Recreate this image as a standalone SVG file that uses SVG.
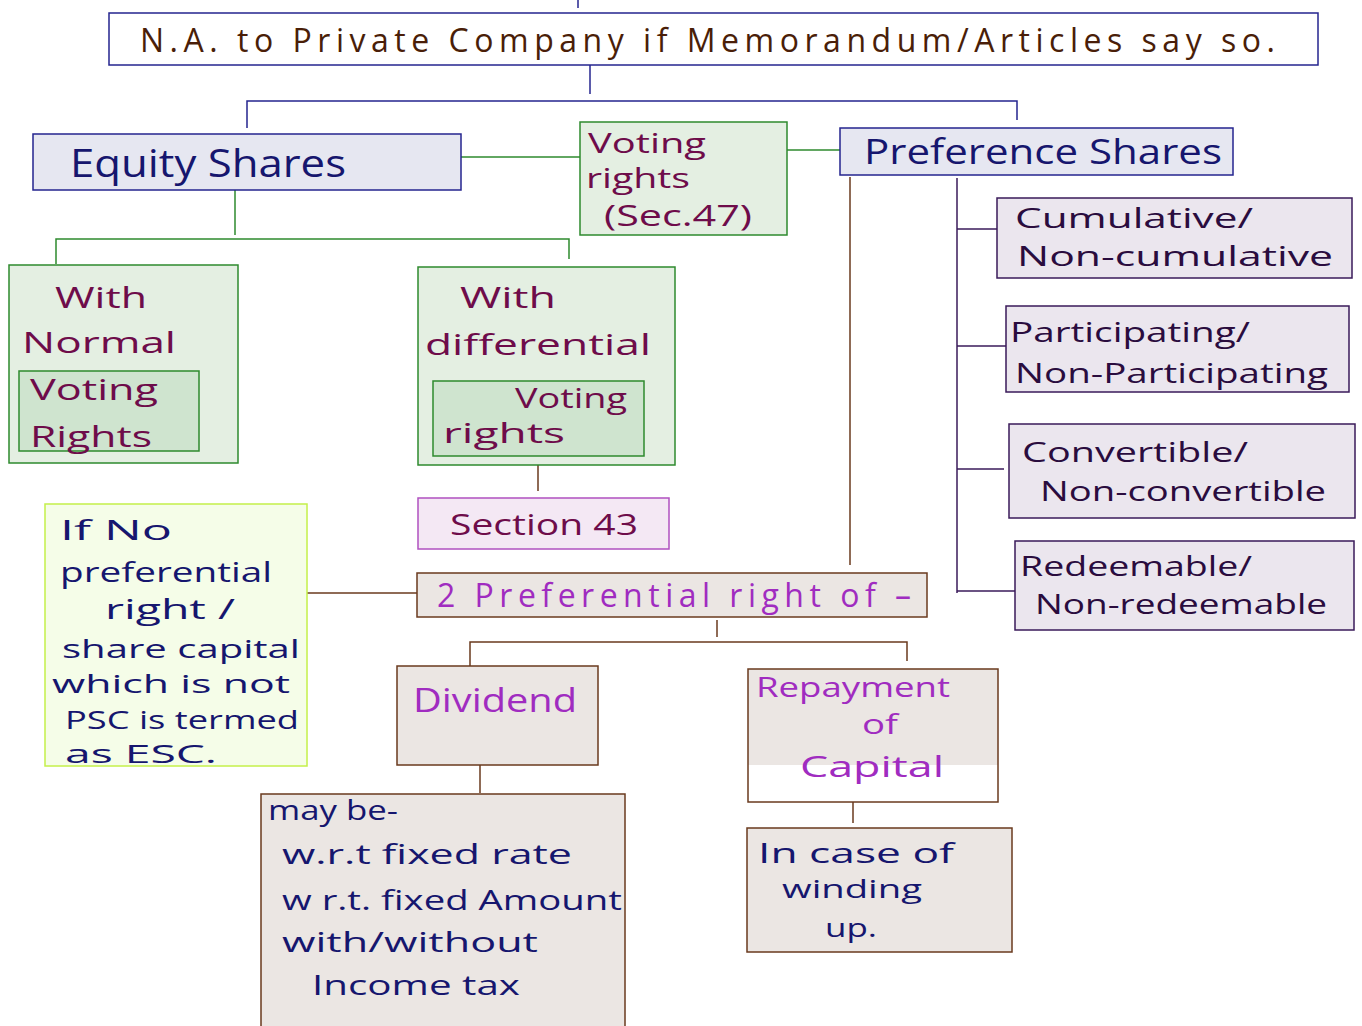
<svg xmlns="http://www.w3.org/2000/svg" width="1362" height="1026" viewBox="0 0 1362 1026">
<style>
text{font-family:"Open Sans","Liberation Sans",sans-serif;}
.nv{fill:#16166e;}
.mr{fill:#6e0c4a;}
.pu{fill:#a02cc0;}
.br{fill:#4a1e08;}
.dk{fill:#2a0c3e;}
.bx-blue{fill:#e6e7f1;stroke:#25258f;stroke-width:1.5;}
.bx-green{fill:#e4efe2;stroke:#2e8a2e;stroke-width:1.5;}
.bx-green2{fill:#cfe4cf;stroke:#2e8a2e;stroke-width:1.5;}
.bx-purp{fill:#ebe6ee;stroke:#3a1a5a;stroke-width:1.5;}
.bx-brown{fill:#ebe6e3;stroke:#6a3a1e;stroke-width:1.5;}
.c-nv{stroke:#25258f;stroke-width:1.5;fill:none;}
.c-gr{stroke:#2e8a2e;stroke-width:1.5;fill:none;}
.c-br{stroke:#6a3a1e;stroke-width:1.5;fill:none;}
.c-pu{stroke:#3a1a5a;stroke-width:1.5;fill:none;}
</style>
<rect width="1362" height="1026" fill="#ffffff"/>
<g id="connectors">
<line x1="578" y1="0" x2="578" y2="8" class="c-nv"/>
<line x1="590" y1="65" x2="590" y2="94" class="c-nv"/>
<polyline points="247,128 247,101 1017,101 1017,120" class="c-nv"/>
<line x1="461" y1="157" x2="580" y2="157" class="c-gr"/>
<line x1="787" y1="150" x2="840" y2="150" class="c-gr"/>
<line x1="235" y1="190" x2="235" y2="235" class="c-gr"/>
<polyline points="56,264 56,239 569,239 569,259" class="c-gr"/>
<line x1="538" y1="465" x2="538" y2="491" class="c-br"/>
<line x1="850" y1="177" x2="850" y2="565" class="c-br"/>
<line x1="957" y1="178" x2="957" y2="593" class="c-pu"/>
<line x1="957" y1="229" x2="997" y2="229" class="c-pu"/>
<line x1="957" y1="346" x2="1006" y2="346" class="c-pu"/>
<line x1="957" y1="469" x2="1004" y2="469" class="c-pu"/>
<line x1="957" y1="591" x2="1015" y2="591" class="c-pu"/>
<line x1="307" y1="593" x2="417" y2="593" class="c-br"/>
<line x1="717" y1="620" x2="717" y2="637" class="c-br"/>
<polyline points="470,666 470,642 907,642 907,661" class="c-br"/>
<line x1="480" y1="765" x2="480" y2="793" class="c-br"/>
<line x1="853" y1="802" x2="853" y2="823" class="c-br"/>
</g>
<g id="top">
<rect x="109" y="13" width="1209" height="52" fill="#ffffff" stroke="#25258f" stroke-width="1.5"/>
<text x="140" y="52" font-size="32" class="br" textLength="1135" lengthAdjust="spacing">N.A. to Private Company if Memorandum/Articles say so.</text>
</g>
<g id="equity">
<rect x="33" y="134" width="428" height="56" class="bx-blue"/>
<text x="70" y="177" font-size="38" class="nv" textLength="276" lengthAdjust="spacingAndGlyphs">Equity Shares</text>
</g>
<g id="voting">
<rect x="580" y="122" width="207" height="113" class="bx-green"/>
<text x="588" y="153" font-size="27" class="mr" textLength="118" lengthAdjust="spacingAndGlyphs">Voting</text>
<text x="586" y="188" font-size="27" class="mr" textLength="104" lengthAdjust="spacingAndGlyphs">rights</text>
<text x="604" y="226" font-size="29" class="mr" textLength="148" lengthAdjust="spacingAndGlyphs">(Sec.47)</text>
</g>
<g id="preference">
<rect x="840" y="128" width="393" height="47" class="bx-blue"/>
<text x="864" y="164" font-size="34" class="nv" textLength="358" lengthAdjust="spacingAndGlyphs">Preference Shares</text>
</g>
<g id="normal">
<rect x="9" y="265" width="229" height="198" class="bx-green"/>
<text x="55" y="308" font-size="30" class="mr" textLength="92" lengthAdjust="spacingAndGlyphs">With</text>
<text x="22" y="353" font-size="30" class="mr" textLength="154" lengthAdjust="spacingAndGlyphs">Normal</text>
<rect x="19" y="371" width="180" height="80" class="bx-green2"/>
<text x="30" y="400" font-size="30" class="mr" textLength="128" lengthAdjust="spacingAndGlyphs">Voting</text>
<text x="30" y="447" font-size="30" class="mr" textLength="122" lengthAdjust="spacingAndGlyphs">Rights</text>
</g>
<g id="differential">
<rect x="418" y="267" width="257" height="198" class="bx-green"/>
<text x="460" y="308" font-size="30" class="mr" textLength="96" lengthAdjust="spacingAndGlyphs">With</text>
<text x="425" y="355" font-size="30" class="mr" textLength="226" lengthAdjust="spacingAndGlyphs">differential</text>
<rect x="433" y="381" width="211" height="75" class="bx-green2"/>
<text x="515" y="408" font-size="28" class="mr" textLength="112" lengthAdjust="spacingAndGlyphs">Voting</text>
<text x="443" y="443" font-size="28" class="mr" textLength="122" lengthAdjust="spacingAndGlyphs">rights</text>
</g>
<g id="section43">
<rect x="418" y="498" width="251" height="51" fill="#f4e8f4" stroke="#b050c0" stroke-width="1.5"/>
<text x="450" y="535" font-size="30" class="mr" textLength="188" lengthAdjust="spacingAndGlyphs">Section 43</text>
</g>
<g id="cumulative">
<rect x="997" y="198" width="355" height="80" class="bx-purp"/>
<text x="1015" y="228" font-size="28" class="dk" textLength="238" lengthAdjust="spacingAndGlyphs">Cumulative/</text>
<text x="1017" y="266" font-size="28" class="dk" textLength="316" lengthAdjust="spacingAndGlyphs">Non-cumulative</text>
</g>
<g id="participating">
<rect x="1006" y="306" width="343" height="86" class="bx-purp"/>
<text x="1010" y="342" font-size="28" class="dk" textLength="240" lengthAdjust="spacingAndGlyphs">Participating/</text>
<text x="1015" y="383" font-size="28" class="dk" textLength="313" lengthAdjust="spacingAndGlyphs">Non-Participating</text>
</g>
<g id="convertible">
<rect x="1009" y="424" width="346" height="94" class="bx-purp"/>
<text x="1022" y="462" font-size="28" class="dk" textLength="226" lengthAdjust="spacingAndGlyphs">Convertible/</text>
<text x="1040" y="501" font-size="28" class="dk" textLength="286" lengthAdjust="spacingAndGlyphs">Non-convertible</text>
</g>
<g id="redeemable">
<rect x="1015" y="541" width="339" height="89" class="bx-purp"/>
<text x="1020" y="576" font-size="28" class="dk" textLength="232" lengthAdjust="spacingAndGlyphs">Redeemable/</text>
<text x="1035" y="614" font-size="28" class="dk" textLength="292" lengthAdjust="spacingAndGlyphs">Non-redeemable</text>
</g>
<g id="ifno">
<rect x="45" y="504" width="262" height="262" fill="#f5fde8" stroke="#c4f04a" stroke-width="1.5"/>
<text x="60" y="540" font-size="27" class="nv" textLength="112" lengthAdjust="spacingAndGlyphs">If No</text>
<text x="60" y="582" font-size="27" class="nv" textLength="212" lengthAdjust="spacingAndGlyphs">preferential</text>
<text x="105" y="619" font-size="27" class="nv" textLength="130" lengthAdjust="spacingAndGlyphs">right /</text>
<text x="62" y="658" font-size="26" class="nv" textLength="238" lengthAdjust="spacingAndGlyphs">share capital</text>
<text x="52" y="693" font-size="25" class="nv" textLength="238" lengthAdjust="spacingAndGlyphs">which is not</text>
<text x="65" y="729" font-size="25" class="nv" textLength="234" lengthAdjust="spacingAndGlyphs">PSC is termed</text>
<text x="65" y="763" font-size="25" class="nv" textLength="152" lengthAdjust="spacingAndGlyphs">as ESC.</text>
</g>
<g id="twopref">
<rect x="417" y="573" width="510" height="44" class="bx-brown"/>
<text x="437" y="607" font-size="32" class="pu" textLength="474" lengthAdjust="spacing">2 Preferential right of –</text>
</g>
<g id="dividend">
<rect x="397" y="666" width="201" height="99" class="bx-brown"/>
<text x="413" y="712" font-size="32" class="pu" textLength="164" lengthAdjust="spacingAndGlyphs">Dividend</text>
</g>
<g id="maybe">
<rect x="261" y="794" width="364" height="240" class="bx-brown"/>
<text x="268" y="820" font-size="28" class="nv" textLength="130" lengthAdjust="spacingAndGlyphs">may be-</text>
<text x="282" y="864" font-size="28" class="nv" textLength="290" lengthAdjust="spacingAndGlyphs">w.r.t fixed rate</text>
<text x="282" y="910" font-size="28" class="nv" textLength="340" lengthAdjust="spacingAndGlyphs">w r.t. fixed Amount</text>
<text x="282" y="952" font-size="28" class="nv" textLength="256" lengthAdjust="spacingAndGlyphs">with/without</text>
<text x="312" y="995" font-size="28" class="nv" textLength="208" lengthAdjust="spacingAndGlyphs">Income tax</text>
</g>
<g id="repayment">
<rect x="748" y="669" width="250" height="133" fill="#ffffff" stroke="none"/>
<rect x="748" y="669" width="250" height="96" fill="#ebe6e3" stroke="none"/>
<rect x="748" y="669" width="250" height="133" fill="none" stroke="#6a3a1e" stroke-width="1.5"/>
<text x="756" y="697" font-size="27" class="pu" textLength="194" lengthAdjust="spacingAndGlyphs">Repayment</text>
<text x="862" y="734" font-size="27" class="pu" textLength="36" lengthAdjust="spacingAndGlyphs">of</text>
<text x="800" y="777" font-size="30" class="pu" textLength="144" lengthAdjust="spacingAndGlyphs">Capital</text>
</g>
<g id="winding">
<rect x="747" y="828" width="265" height="124" class="bx-brown"/>
<text x="758" y="863" font-size="27" class="nv" textLength="196" lengthAdjust="spacingAndGlyphs">In case of</text>
<text x="782" y="898" font-size="26" class="nv" textLength="140" lengthAdjust="spacingAndGlyphs">winding</text>
<text x="825" y="937" font-size="26" class="nv" textLength="52" lengthAdjust="spacingAndGlyphs">up.</text>
</g>
</svg>
